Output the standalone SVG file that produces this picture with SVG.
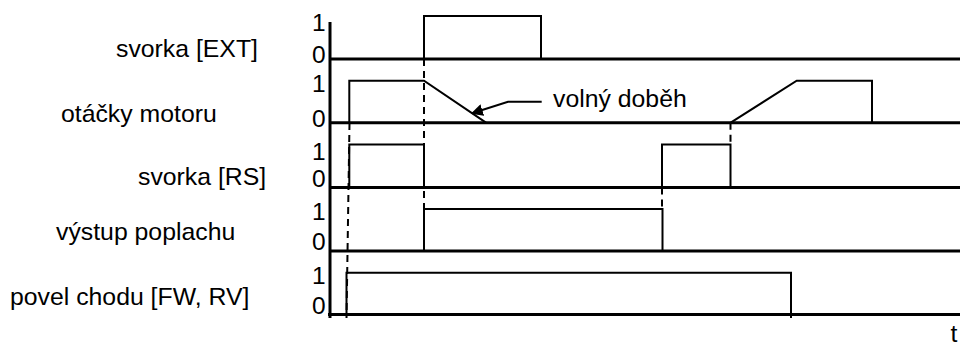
<svg xmlns="http://www.w3.org/2000/svg" width="960" height="345" viewBox="0 0 960 345">
<style>
text{font-family:"Liberation Sans",Arial,sans-serif;font-size:24.8px;fill:#000}
.d{font-size:24.5px}
.ax{stroke:#000;stroke-width:3;fill:none}
.sig{stroke:#000;stroke-width:2;fill:none;stroke-linejoin:miter}
.dash{stroke:#000;stroke-width:2;fill:none;stroke-dasharray:7 5}
</style>
<defs>
<marker id="ah" viewBox="0 0 10 10" refX="9" refY="5" markerWidth="6" markerHeight="6" markerUnits="strokeWidth" orient="auto">
<path d="M0,0 L10,5 L0,10 z" fill="#000"/>
</marker>
</defs>
<rect width="960" height="345" fill="#fff"/>
<g id="axes">
<path class="ax" d="M330,22 V318"/>
<path class="ax" d="M330,59 H960 M330,122.7 H960 M330,187.5 H960 M330,251 H960 M328,314.5 H960"/>
<text x="950.5" y="341.5">t</text>
</g>
<g id="row-ext">
<text x="116" y="56.5">svorka [EXT]</text>
<text class="d" x="312" y="31">1</text>
<text class="d" x="312" y="63">0</text>
<path class="sig" d="M424,59 V16 H541 V59"/>
</g>
<g id="row-motor">
<text x="61" y="121.7">otáčky motoru</text>
<text class="d" x="312" y="91.5">1</text>
<text class="d" x="312" y="127">0</text>
<path class="sig" d="M349.3,122.7 V80.7 H424 L486,122.7"/>
<path class="sig" d="M730.7,122.7 L796.7,80.7 H872 V122.7"/>
</g>
<g id="row-rs">
<text x="138" y="184.5">svorka [RS]</text>
<text class="d" x="312" y="160">1</text>
<text class="d" x="312" y="186.5">0</text>
<path class="sig" d="M349.3,187.5 V144.5 H424 V187.5"/>
<path class="sig" d="M662,187.5 V144.5 H730.5 V187.5"/>
</g>
<g id="row-alarm">
<text x="56" y="239.5">výstup poplachu</text>
<text class="d" x="312" y="220">1</text>
<text class="d" x="312" y="250">0</text>
<path class="sig" d="M424,251 V209 H662.5 V251"/>
</g>
<g id="row-run">
<text x="10" y="305">povel chodu [FW, RV]</text>
<text class="d" x="312" y="284">1</text>
<text class="d" x="312" y="314">0</text>
<path class="sig" d="M346.5,314.5 V272.7 H791 V318"/>
</g>
<g id="connectors">
<path class="dash" d="M349.5,123 L346.5,318"/>
<path class="dash" d="M424,59 V209"/>
<path class="dash" d="M730.5,122.7 V145"/>
<path class="dash" d="M662,187.5 V209"/>
<path class="sig" d="M541.7,101.7 H508 L472,113.3" marker-end="url(#ah)"/>
<text x="553" y="107">volný doběh</text>
</g>
</svg>
